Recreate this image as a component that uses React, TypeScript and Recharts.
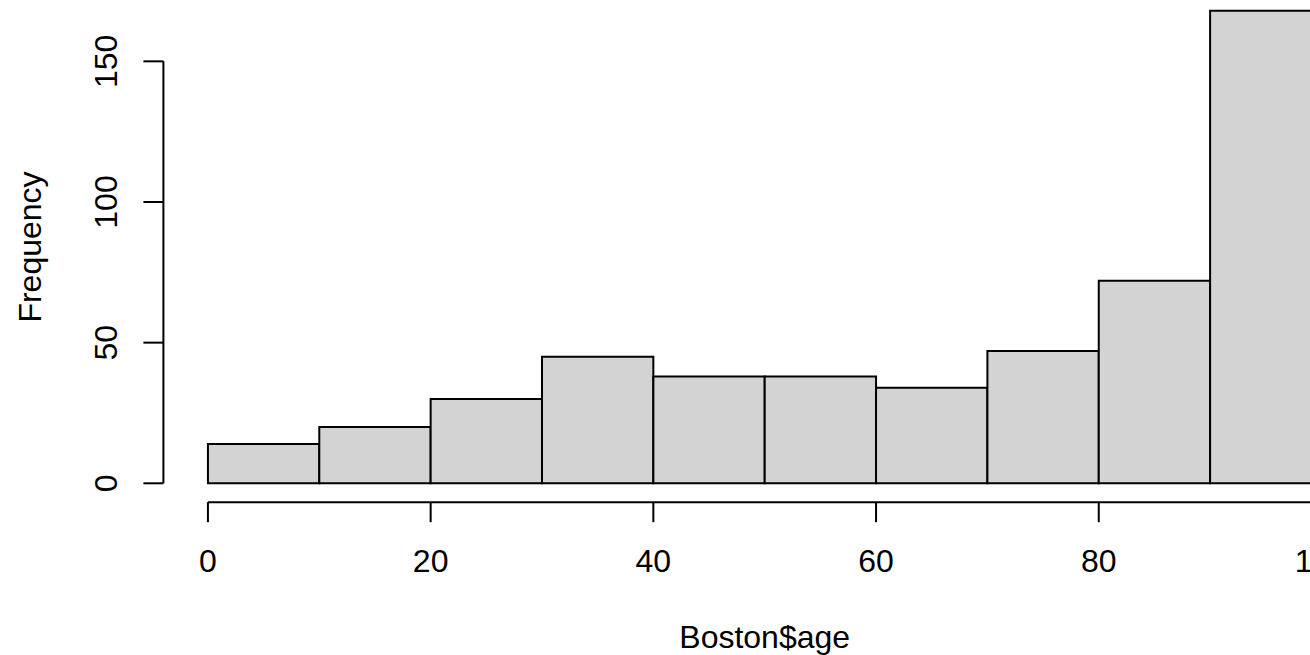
import { ComposedChart, ReferenceArea, ReferenceLine, XAxis, YAxis } from 'recharts';

// hist(Boston$age): 10-year bins, counts per bin
const binStart = [0, 10, 20, 30, 40, 50, 60, 70, 80, 90];
const binEnd = [10, 20, 30, 40, 50, 60, 70, 80, 90, 100];
const counts = [14, 20, 30, 45, 38, 38, 34, 47, 72, 168];
const xTicks = [0, 20, 40, 60, 80, 100];
const yTicks = [0, 50, 100, 150];
const xTitle = 'Boston$age';
const yTitle = 'Frequency';

const FONT = '"Liberation Sans", Arial, Helvetica, sans-serif';
const FONT_SIZE = 32;
const INK = '#000000';
const BAR_FILL = '#d3d3d3';

// base R pads the data range by 4% on each side
const xLo = Math.min(...binStart);
const xHi = Math.max(...binEnd);
const yHi = Math.max(...counts);
const xPad = (xHi - xLo) * 0.04;
const yPad = yHi * 0.04;
const xDomain: [number, number] = [xLo - xPad, xHi + xPad];
const yDomain: [number, number] = [-yPad, yHi + yPad];

const rows = binStart.map((s, i) => ({ mid: (s + binEnd[i]) / 2, count: counts[i] }));

function XTick({ x, y, payload }: any) {
  return (
    <text x={x} y={y + 48} textAnchor="middle" fill={INK} fontSize={FONT_SIZE} fontFamily={FONT}>
      {payload.value}
    </text>
  );
}

function YTick({ x, y, payload }: any) {
  return (
    <text
      transform={`translate(${x - 24},${y}) rotate(-90)`}
      textAnchor="middle"
      fill={INK}
      fontSize={FONT_SIZE}
      fontFamily={FONT}
    >
      {payload.value}
    </text>
  );
}

function XTitle({ viewBox }: any) {
  const { x, y, width } = viewBox;
  return (
    <text x={x + width / 2} y={y + 146} textAnchor="middle" fill={INK} fontSize={FONT_SIZE} fontFamily={FONT}>
      {xTitle}
    </text>
  );
}

function YTitle({ viewBox }: any) {
  const { x, y, height } = viewBox;
  return (
    <text
      transform={`translate(${x + 41},${y + height / 2}) rotate(-90)`}
      textAnchor="middle"
      fill={INK}
      fontSize={FONT_SIZE}
      fontFamily={FONT}
    >
      {yTitle}
    </text>
  );
}

export default function App() {
  return (
    <div
      style={{
        position: 'fixed',
        left: 0,
        top: 0,
        width: 1310,
        height: 655,
        overflow: 'hidden',
        background: '#fff',
      }}
    >
      <div style={{ position: 'absolute', left: 0, top: -20 }}>
        <ComposedChart
          width={1500}
          height={700}
          data={rows}
          margin={{ top: 11.8, right: 134, bottom: 0, left: 0 }}
        >
          <XAxis
            dataKey="mid"
            type="number"
            domain={xDomain}
            allowDataOverflow
            ticks={xTicks}
            interval={0}
            height={177.8}
            axisLine={false}
            tickLine={{ stroke: INK, strokeWidth: 2 }}
            tickSize={20}
            tick={<XTick />}
            label={{ content: <XTitle /> }}
          />
          <YAxis
            type="number"
            domain={yDomain}
            allowDataOverflow
            ticks={yTicks}
            interval={0}
            width={163.4}
            axisLine={false}
            tickLine={{ stroke: INK, strokeWidth: 2 }}
            tickSize={20}
            tick={<YTick />}
            label={{ content: <YTitle /> }}
          />
          {binStart.map((s, i) => (
            <ReferenceArea
              key={s}
              x1={s}
              x2={binEnd[i]}
              y1={0}
              y2={counts[i]}
              fill={BAR_FILL}
              fillOpacity={1}
              stroke={INK}
              strokeWidth={2}
              ifOverflow="visible"
            />
          ))}
          <ReferenceLine
            segment={[
              { x: xTicks[0], y: yDomain[0] },
              { x: xTicks[xTicks.length - 1], y: yDomain[0] },
            ]}
            stroke={INK}
            strokeWidth={2}
            ifOverflow="visible"
          />
          <ReferenceLine
            segment={[
              { x: xDomain[0], y: yTicks[0] },
              { x: xDomain[0], y: yTicks[yTicks.length - 1] },
            ]}
            stroke={INK}
            strokeWidth={2}
            ifOverflow="visible"
          />
        </ComposedChart>
      </div>
    </div>
  );
}
